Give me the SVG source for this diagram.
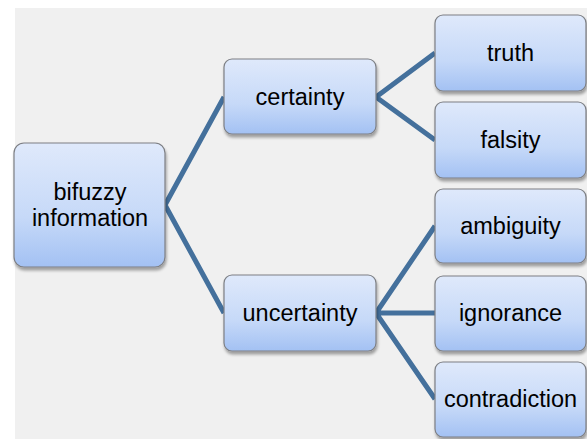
<svg xmlns="http://www.w3.org/2000/svg" width="587" height="439" viewBox="0 0 587 439">
<defs>
<linearGradient id="g" x1="0" y1="0" x2="0" y2="1">
<stop offset="0" stop-color="#dfe9fb"/>
<stop offset="0.6" stop-color="#c6d9f8"/>
<stop offset="1" stop-color="#a3c1f3"/>
</linearGradient>
<filter id="sh" x="-10%" y="-10%" width="125%" height="130%">
<feGaussianBlur in="SourceAlpha" stdDeviation="1.5"/>
<feOffset dx="1" dy="2.5" result="b"/>
<feComponentTransfer><feFuncA type="linear" slope="0.35"/></feComponentTransfer>
<feMerge><feMergeNode/><feMergeNode in="SourceGraphic"/></feMerge>
</filter>
</defs>
<style>
.box{fill:url(#g);stroke:#7d7f84;stroke-width:1.2;filter:url(#sh)}
.t{font-family:"Liberation Sans",Arial,sans-serif;font-size:23.5px;fill:#000;text-anchor:middle}
.c{stroke:#44709c;stroke-width:5;fill:none;stroke-linecap:butt}
</style>
<rect x="0" y="0" width="587" height="439" fill="#ffffff"/>
<rect x="15" y="8" width="572" height="431" fill="#f0f0f0"/>
<g id="connectors">
<path class="c" d="M165,205 L224,97 M165,205 L224,313"/>
<path class="c" d="M376,97 L435,53 M376,97 L435,140"/>
<path class="c" d="M376,313 L435,226 M376,313 L435,313 M376,313 L435,399"/>
</g>
<g id="bifuzzy"><rect class="box" x="14" y="143" width="151" height="124" rx="10"/><text class="t" x="90" y="200">bifuzzy</text><text class="t" x="90" y="226">information</text></g>
<g id="certainty"><rect class="box" x="224" y="59" width="152" height="75" rx="8"/><text class="t" x="300" y="105">certainty</text></g>
<g id="uncertainty"><rect class="box" x="224" y="275" width="152" height="76" rx="8"/><text class="t" x="300" y="321">uncertainty</text></g>
<g id="truth"><rect class="box" x="435" y="15" width="151" height="76" rx="8"/><text class="t" x="510.5" y="61">truth</text></g>
<g id="falsity"><rect class="box" x="435" y="102" width="151" height="76" rx="8"/><text class="t" x="510.5" y="148">falsity</text></g>
<g id="ambiguity"><rect class="box" x="435" y="189" width="151" height="74" rx="8"/><text class="t" x="510.5" y="234">ambiguity</text></g>
<g id="ignorance"><rect class="box" x="435" y="276" width="151" height="75" rx="8"/><text class="t" x="510.5" y="321">ignorance</text></g>
<g id="contradiction"><rect class="box" x="435" y="362" width="151" height="75" rx="8"/><text class="t" x="510.5" y="407">contradiction</text></g>
</svg>
